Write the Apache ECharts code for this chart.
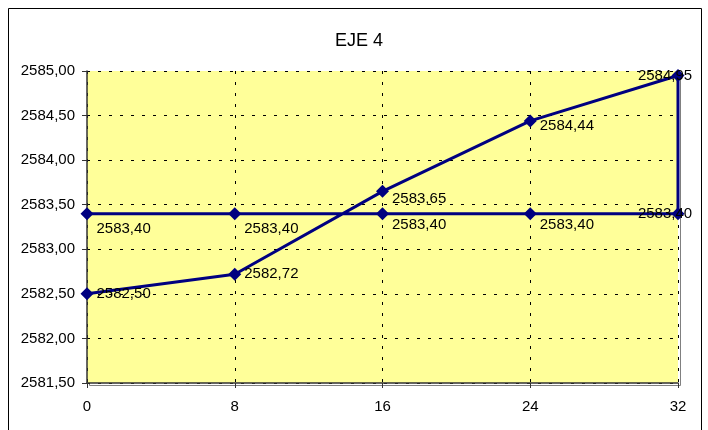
<!DOCTYPE html>
<html>
<head>
<meta charset="utf-8">
<script src="https://cdn.jsdelivr.net/npm/echarts@6/dist/echarts.min.js"></script>
<style>html,body{margin:0;padding:0;background:#fff}#c{width:708px;height:430px}</style>
</head>
<body>
<div id="c"></div>
<script>
var title = 'EJE 4';
var stations = [0, 8, 16, 24, 32];
var terreno = [2582.50, 2582.72, 2583.65, 2584.44, 2584.95];
var rasante = [2583.40, 2583.40, 2583.40, 2583.40, 2583.40];
var yMin = 2581.5, yMax = 2585.0, yStep = 0.5;

function fmt(v) { return v.toFixed(2).replace('.', ','); }

// path: terrain forward, then rasante back
var path = [];
for (var i = 0; i < stations.length; i++) path.push([stations[i], terreno[i], 't', i]);
for (var j = stations.length - 1; j >= 0; j--) path.push([stations[j], rasante[j], 'r', j]);

var last = stations.length - 1;
var data = path.map(function (p) {
  var lab;
  if (p[3] === last) {
    lab = { position: 'inside', offset: [-13, 0] };
  } else if (p[2] === 't') {
    var dy = [0, 0, 8, 5][p[3]];
    lab = { position: 'right', distance: 3, offset: [0, dy] };
  } else {
    var dy2 = [15, 15, 11, 11][p[3]];
    lab = { position: 'right', distance: 3, offset: [0, dy2] };
  }
  return { value: [p[0], p[1]], label: lab };
});

var chart = echarts.init(document.getElementById('c'));
chart.setOption({
  animation: false,
  backgroundColor: '#ffffff',
  textStyle: { fontFamily: 'Liberation Sans, Arial, sans-serif' },
  title: {
    text: title, left: 354, top: 27, textAlign: 'center',
    textStyle: { fontSize: 18, fontWeight: 'normal', color: '#000', fontFamily: 'Liberation Sans, Arial, sans-serif' }
  },
  graphic: [{
    type: 'rect', left: 6, top: 6, z: -10,
    shape: { width: 693, height: 430 },
    style: { fill: 'none', stroke: '#000', lineWidth: 1 }
  }, {
    type: 'rect', left: 87, top: 71, z: -5,
    shape: { width: 591, height: 312 },
    style: { fill: 'none', stroke: '#808080', lineWidth: 1 }
  }],
  grid: { left: 87, right: 30, top: 71, bottom: 47, show: true, backgroundColor: '#ffff99', borderWidth: 0 },
  xAxis: {
    type: 'value', min: 0, max: 32, interval: 8,
    axisLine: { show: true, onZero: false, lineStyle: { color: '#333', width: 1.5 } },
    axisTick: { show: true, length: 5, lineStyle: { color: '#333' } },
    axisLabel: { fontSize: 15, color: '#000', margin: 16 },
    splitLine: { show: true, lineStyle: { color: '#000', type: [3, 8], width: 1 } }
  },
  yAxis: {
    type: 'value', min: yMin, max: yMax, interval: yStep,
    axisLine: { show: true, onZero: false, lineStyle: { color: '#333', width: 1.5 } },
    axisTick: { show: true, length: 5, lineStyle: { color: '#333' } },
    axisLabel: { fontSize: 15, color: '#000', margin: 12, formatter: function (v) { return fmt(v); } },
    splitLine: { show: true, lineStyle: { color: '#000', type: [3, 8], width: 1 } }
  },
  series: [{
    type: 'line',
    data: data,
    symbol: 'diamond', symbolSize: 13,
    lineStyle: { color: '#000080', width: 3 },
    itemStyle: { color: '#000080' },
    clip: false,
    label: {
      show: true, fontSize: 15, color: '#000',
      formatter: function (p) { return fmt(p.value[1]); }
    }
  }]
});
</script>
</body>
</html>
